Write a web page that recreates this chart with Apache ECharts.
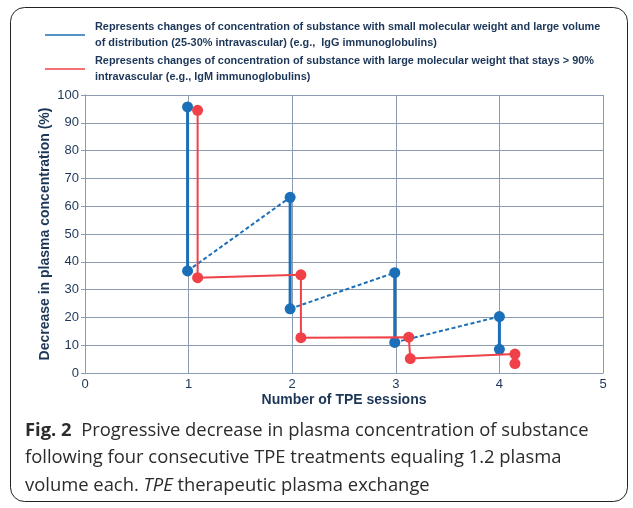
<!DOCTYPE html>
<html>
<head>
    <meta charset="utf-8">
    <title>TPE sessions</title>
    <script src="https://cdn.jsdelivr.net/npm/echarts@6/dist/echarts.min.js"></script>
    <style>
        html, body { margin: 0; padding: 0; background: #fff; }
        #main { width: 633px; height: 508px; }
    </style>
</head>
<body>
<div id="main"></div>
<script type="text/javascript">
    // values
    var blueX    = [0.99, 1.98, 2.99, 4.0];
    var blueHigh = [95.7, 63.2, 36.1, 20.3];
    var blueLow  = [36.7, 23.1, 11.0, 8.5];

    var redXTop  = [1.087, 2.084, 3.125, 4.15];
    var redXLow  = [1.087, 2.084, 3.14, 4.15];
    var redHigh  = [94.5, 35.3, 12.9, 6.8];
    var redLow   = [34.3, 12.7, 5.2, 3.4];

    var xTicks = [0, 1, 2, 3, 4, 5];
    var yTicks = [0, 10, 20, 30, 40, 50, 60, 70, 80, 90, 100];

    var legendBlue = ['Represents changes of concentration of substance with small molecular weight and large volume',
                      'of distribution (25-30% intravascular) (e.g.,  IgG immunoglobulins)'];
    var legendRed  = ['Represents changes of concentration of substance with large molecular weight that stays > 90%',
                      'intravascular (e.g., IgM immunoglobulins)'];

    var BLUE = '#1b6fb9';
    var RED = '#ef4147';
    var NAVY = '#1c3658';
    var GRID = '#8a9bb2';

    var myChart = echarts.init(document.getElementById('main'));
    var series = [];

    // blue drops (solid)
    for (var i = 0; i < blueX.length; i++) {
        series.push({
            type: 'line',
            data: [[blueX[i], blueHigh[i]], [blueX[i], blueLow[i]]],
            lineStyle: { color: BLUE, width: 3 },
            itemStyle: { color: BLUE },
            symbol: 'circle', symbolSize: 11,
            z: 3
        });
    }
    // blue rebounds (dashed)
    for (var j = 0; j < blueX.length - 1; j++) {
        series.push({
            type: 'line',
            data: [[blueX[j], blueLow[j]], [blueX[j + 1], blueHigh[j + 1]]],
            lineStyle: { color: BLUE, width: 2, type: [4, 2.5] },
            itemStyle: { color: BLUE },
            symbol: 'none',
            z: 2
        });
    }
    // red path (solid)
    var redPath = [];
    for (var k = 0; k < redXTop.length; k++) {
        redPath.push([redXTop[k], redHigh[k]]);
        redPath.push([redXLow[k], redLow[k]]);
    }
    series.push({
        type: 'line',
        data: redPath,
        lineStyle: { color: RED, width: 2 },
        itemStyle: { color: RED },
        symbol: 'circle', symbolSize: 11,
        z: 4
    });

    function legendText(lines, top) {
        return {
            type: 'text', left: 95, top: top,
            style: {
                text: lines.join('\n'),
                font: 'bold 10.9px "Liberation Sans", Arial, sans-serif',
                fill: NAVY, lineHeight: 16
            }
        };
    }

    var option = {
        animation: false,
        grid: { left: 85, right: 30, top: 95, bottom: 135 },
        xAxis: {
            type: 'value', min: 0, max: 5, interval: 1,
            name: 'Number of TPE sessions', nameLocation: 'middle', nameGap: 20,
            nameMoveOverlap: false,
            nameTextStyle: { color: NAVY, fontWeight: 'bold', fontSize: 14, fontFamily: 'Liberation Sans' },
            axisLine: { show: true, lineStyle: { color: GRID, width: 1 } },
            axisTick: { show: false },
            axisLabel: { color: NAVY, fontSize: 13, margin: 5, fontFamily: 'Liberation Sans',
                formatter: function (v) { return xTicks.indexOf(v) >= 0 ? String(v) : ''; } },
            splitLine: { show: true, lineStyle: { color: GRID, width: 1 } }
        },
        yAxis: {
            type: 'value', min: 0, max: 100, interval: 10,
            name: 'Decrease in plasma concentration (%)', nameLocation: 'middle', nameGap: 33,
            nameMoveOverlap: false,
            nameTextStyle: { color: NAVY, fontWeight: 'bold', fontSize: 14, fontFamily: 'Liberation Sans' },
            axisLine: { show: true, lineStyle: { color: GRID, width: 1 } },
            axisTick: { show: true, length: 4, lineStyle: { color: GRID } },
            axisLabel: { color: NAVY, fontSize: 13, margin: 6, fontFamily: 'Liberation Sans',
                formatter: function (v) { return yTicks.indexOf(v) >= 0 ? String(v) : ''; } },
            splitLine: { show: true, lineStyle: { color: GRID, width: 1 } }
        },
        graphic: [
            {
                type: 'rect', left: 8, top: 5,
                shape: { width: 617, height: 494, r: 14 },
                style: { fill: 'none', stroke: '#222', lineWidth: 1 }, z: -1
            },
            { type: 'line', shape: { x1: 45, y1: 35, x2: 85, y2: 35 }, style: { stroke: BLUE, lineWidth: 1.5 } },
            { type: 'line', shape: { x1: 45, y1: 69, x2: 85, y2: 69 }, style: { stroke: RED, lineWidth: 1.5 } },
            legendText(legendBlue, 19),
            legendText(legendRed, 53),
            {
                type: 'text', left: 25, top: 417,
                style: {
                    text: '{b|Fig. 2}  Progressive decrease in plasma concentration of substance\n' +
                          'following four consecutive TPE treatments equaling 1.2 plasma\n' +
                          'volume each. {i|TPE} therapeutic plasma exchange',
                    font: '18.4px "Open Sans", sans-serif',
                    fill: '#2b2b2b', lineHeight: 27.5,
                    rich: {
                        b: { fontWeight: 'bold', fontSize: 18.4, fontFamily: 'Open Sans', fill: '#2b2b2b' },
                        i: { fontStyle: 'italic', fontSize: 18.4, fontFamily: 'Open Sans', fill: '#2b2b2b' }
                    }
                }
            }
        ],
        series: series
    };

    myChart.setOption(option);
</script>
</body>
</html>
